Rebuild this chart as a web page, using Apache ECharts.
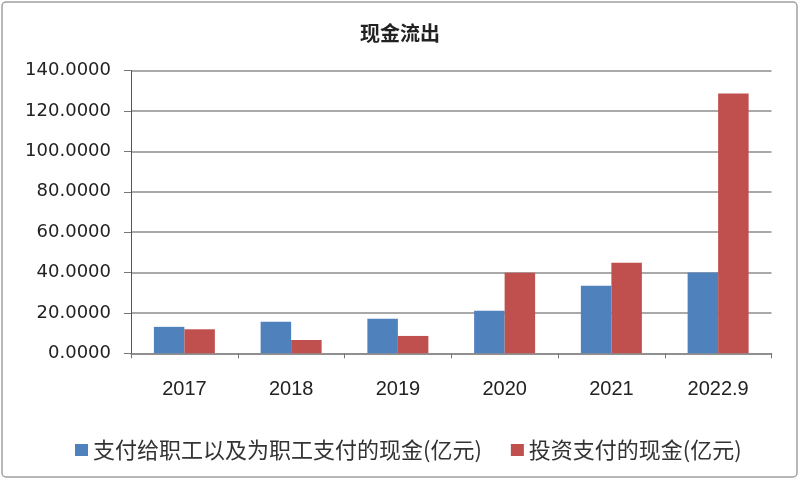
<!DOCTYPE html>
<html>
<head>
<meta charset="utf-8">
<script src="https://cdn.jsdelivr.net/npm/echarts@6/dist/echarts.min.js"></script>
<style>
html,body{margin:0;padding:0;background:#fff;}
#c{width:800px;height:481px;}
</style>
</head>
<body>
<div id="c"></div>
<script>
const categories = ['2017', '2018', '2019', '2020', '2021', '2022.9'];
const staffCash = [13.1, 15.6, 17.1, 21.1, 33.5, 40.0];
const investCash = [11.9, 6.6, 8.6, 39.9, 44.9, 128.7];
const seriesNames = ['支付给职工以及为职工支付的现金(亿元)', '投资支付的现金(亿元)'];
const yTicks = { min: 0, max: 140, interval: 20 };

const chart = echarts.init(document.getElementById('c'), null, { renderer: 'canvas' });
chart.setOption({
  backgroundColor: '#fff',
  animation: false,
  graphic: [{
    type: 'rect',
    shape: { x: 2, y: 2, width: 795, height: 475, r: 4 },
    style: { fill: 'none', stroke: '#a0a0a0', lineWidth: 1.5 },
    silent: true
  }],
  title: {
    text: '现金流出',
    left: 'center',
    top: 18,
    textStyle: { fontFamily: 'Noto Sans CJK SC', fontSize: 20, fontWeight: 'bold', color: '#222' }
  },
  legend: {
    left: 70,
    top: 434,
    itemWidth: 13,
    itemHeight: 12,
    itemGap: 29,
    icon: 'rect',
    textStyle: { fontFamily: 'Noto Sans CJK SC', fontSize: 22, color: '#333' },
    data: seriesNames
  },
  grid: { left: 131, right: 28.5, top: 70.7, bottom: 127.7 },
  xAxis: {
    type: 'category',
    data: categories,
    axisLine: { lineStyle: { color: '#888', width: 1.5 } },
    axisTick: { show: true, length: 5, lineStyle: { color: '#777' } },
    axisLabel: { margin: 26, fontFamily: 'Liberation Sans', fontSize: 20, color: '#222' }
  },
  yAxis: {
    type: 'value',
    min: yTicks.min,
    max: yTicks.max,
    interval: yTicks.interval,
    axisLine: { show: true, lineStyle: { color: '#555', width: 1 } },
    axisTick: { show: true, length: 7, lineStyle: { color: '#777' } },
    splitLine: { lineStyle: { color: '#8c8c8c', width: 1.5 } },
    axisLabel: {
      margin: 20,
      fontFamily: 'DejaVu Sans',
      fontSize: 18,
      color: '#222',
      formatter: v => v.toFixed(4)
    }
  },
  series: [
    {
      name: seriesNames[0],
      type: 'bar',
      data: staffCash,
      barWidth: 30.5,
      barGap: '0%',
      itemStyle: { color: '#4F81BD' }
    },
    {
      name: seriesNames[1],
      type: 'bar',
      data: investCash,
      barWidth: 30.5,
      barGap: '0%',
      itemStyle: { color: '#C0504D' }
    }
  ]
});
</script>
</body>
</html>
